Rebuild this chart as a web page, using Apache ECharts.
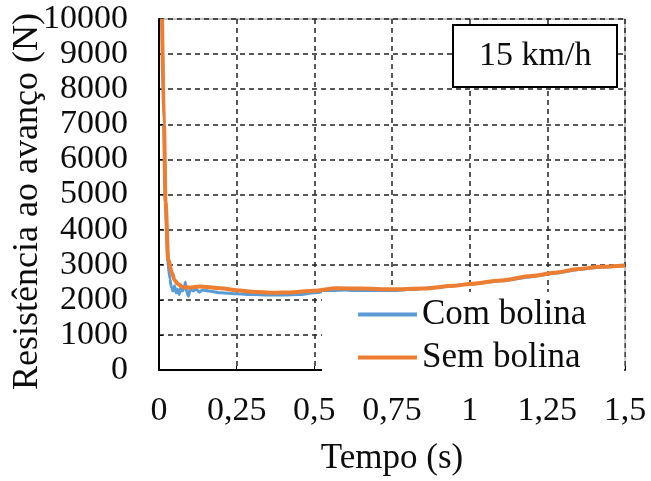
<!DOCTYPE html>
<html>
<head>
<meta charset="utf-8">
<script src="https://cdn.jsdelivr.net/npm/echarts@6/dist/echarts.min.js"></script>
<style>
  html, body { margin: 0; padding: 0; background: #fff; }
  #chart { width: 651px; height: 481px; }
</style>
</head>
<body>
<div id="chart"></div>
<script>
// tick labels / axis
const xTicks = [0, 0.25, 0.5, 0.75, 1, 1.25, 1.5];
const annotation = '15 km/h';

// Com bolina (blue)
const tCom = [0.01, 0.016, 0.021, 0.028, 0.035, 0.04, 0.045, 0.05, 0.055, 0.06, 0.065, 0.07, 0.075, 0.08, 0.085, 0.09, 0.095, 0.1, 0.11, 0.12, 0.13, 0.14, 0.16, 0.2, 0.25, 0.3, 0.35, 0.4, 0.45, 0.5, 0.55, 0.6, 0.65, 0.7, 0.75, 0.8, 0.9, 1.0, 1.1, 1.2, 1.28, 1.35, 1.42, 1.5];
const vCom = [10000, 7000, 4800, 3100, 2600, 2350, 2250, 2400, 2200, 2300, 2150, 2350, 2250, 2300, 2500, 2200, 2100, 2300, 2250, 2300, 2220, 2280, 2250, 2200, 2170, 2150, 2140, 2140, 2150, 2200, 2260, 2280, 2250, 2240, 2260, 2290, 2360, 2440, 2540, 2660, 2760, 2860, 2930, 2970];

// Sem bolina (orange)
const tSem = [0.01, 0.016, 0.021, 0.03, 0.042, 0.05, 0.061, 0.077, 0.1, 0.13, 0.2, 0.25, 0.3, 0.37, 0.42, 0.5, 0.57, 0.65, 0.75, 0.85, 0.95, 1.0, 1.1, 1.2, 1.28, 1.35, 1.42, 1.5];
const vSem = [10000, 7000, 4800, 3130, 2760, 2560, 2450, 2360, 2350, 2380, 2330, 2270, 2230, 2200, 2210, 2260, 2330, 2320, 2300, 2320, 2400, 2450, 2550, 2680, 2780, 2880, 2940, 2980];

const font = "'Liberation Serif', 'Times New Roman', serif";
const ink = '#0d0d0d';
const toPairs = (t, v) => t.map((x, i) => [x, v[i]]);

const chart = echarts.init(document.getElementById('chart'));

const option = {
  backgroundColor: '#fff',
  animation: false,
  title: {
    text: annotation,
    left: 453,
    top: 25,
    padding: [14, 26, 14, 26],
    borderColor: '#000',
    borderWidth: 2,
    backgroundColor: '#fff',
    textStyle: { fontFamily: font, fontSize: 34, fontWeight: 'normal', color: ink }
  },
  grid: {
    left: 159,
    right: 26,
    top: 19,
    bottom: 111,
    outerBoundsMode: 'none',
    containLabel: false,
    show: true,
    borderColor: '#888',
    borderWidth: 1
  },
  legend: {
    orient: 'vertical',
    left: 322,
    top: 292,
    padding: [5, 38, 0, 36],
    itemGap: 8,
    itemWidth: 59,
    itemHeight: 4,
    icon: 'rect',
    backgroundColor: '#fff',
    textStyle: { fontFamily: font, fontSize: 35, color: ink },
    data: ['Com bolina', 'Sem bolina']
  },
  xAxis: {
    type: 'value',
    min: 0,
    max: 1.5,
    interval: 0.25,
    name: 'Tempo (s)',
    nameLocation: 'middle',
    nameGap: 71,
    nameMoveOverlap: false,
    nameTextStyle: { fontFamily: font, fontSize: 35, color: ink },
    axisLine: { lineStyle: { color: '#000', width: 2 } },
    axisTick: { inside: true, length: 4, lineStyle: { color: '#000' } },
    axisLabel: {
      fontFamily: font, fontSize: 34, color: ink, margin: 24,
      formatter: v => String(v).replace('.', ',')
    },
    splitLine: { lineStyle: { color: '#222', type: [5, 4], width: 1.5 } }
  },
  yAxis: {
    type: 'value',
    min: 0,
    max: 10000,
    interval: 1000,
    name: 'Resistência ao avanço (N)',
    nameLocation: 'middle',
    nameGap: 113,
    nameMoveOverlap: false,
    nameTextStyle: { fontFamily: font, fontSize: 36, color: ink, padding: [0, 14, 0, 0] },
    axisLine: { show: true, lineStyle: { color: '#000', width: 2 } },
    axisTick: { show: true, inside: true, length: 4, lineStyle: { color: '#000' } },
    axisLabel: { fontFamily: font, fontSize: 34, color: ink, margin: 31, formatter: v => String(v) },
    splitLine: { lineStyle: { color: '#222', type: [5, 4], width: 1.5 } }
  },
  series: [
    {
      name: 'Com bolina',
      type: 'line',
      showSymbol: false,
      smooth: 0.2,
      smoothMonotone: 'x',
      color: '#5B9BD5',
      lineStyle: { width: 3, color: '#5B9BD5' },
      data: toPairs(tCom, vCom)
    },
    {
      name: 'Sem bolina',
      type: 'line',
      showSymbol: false,
      smooth: 0.3,
      smoothMonotone: 'x',
      color: '#ED7D31',
      lineStyle: { width: 4, color: '#ED7D31' },
      data: toPairs(tSem, vSem)
    }
  ]
};

chart.setOption(option);
</script>
</body>
</html>
